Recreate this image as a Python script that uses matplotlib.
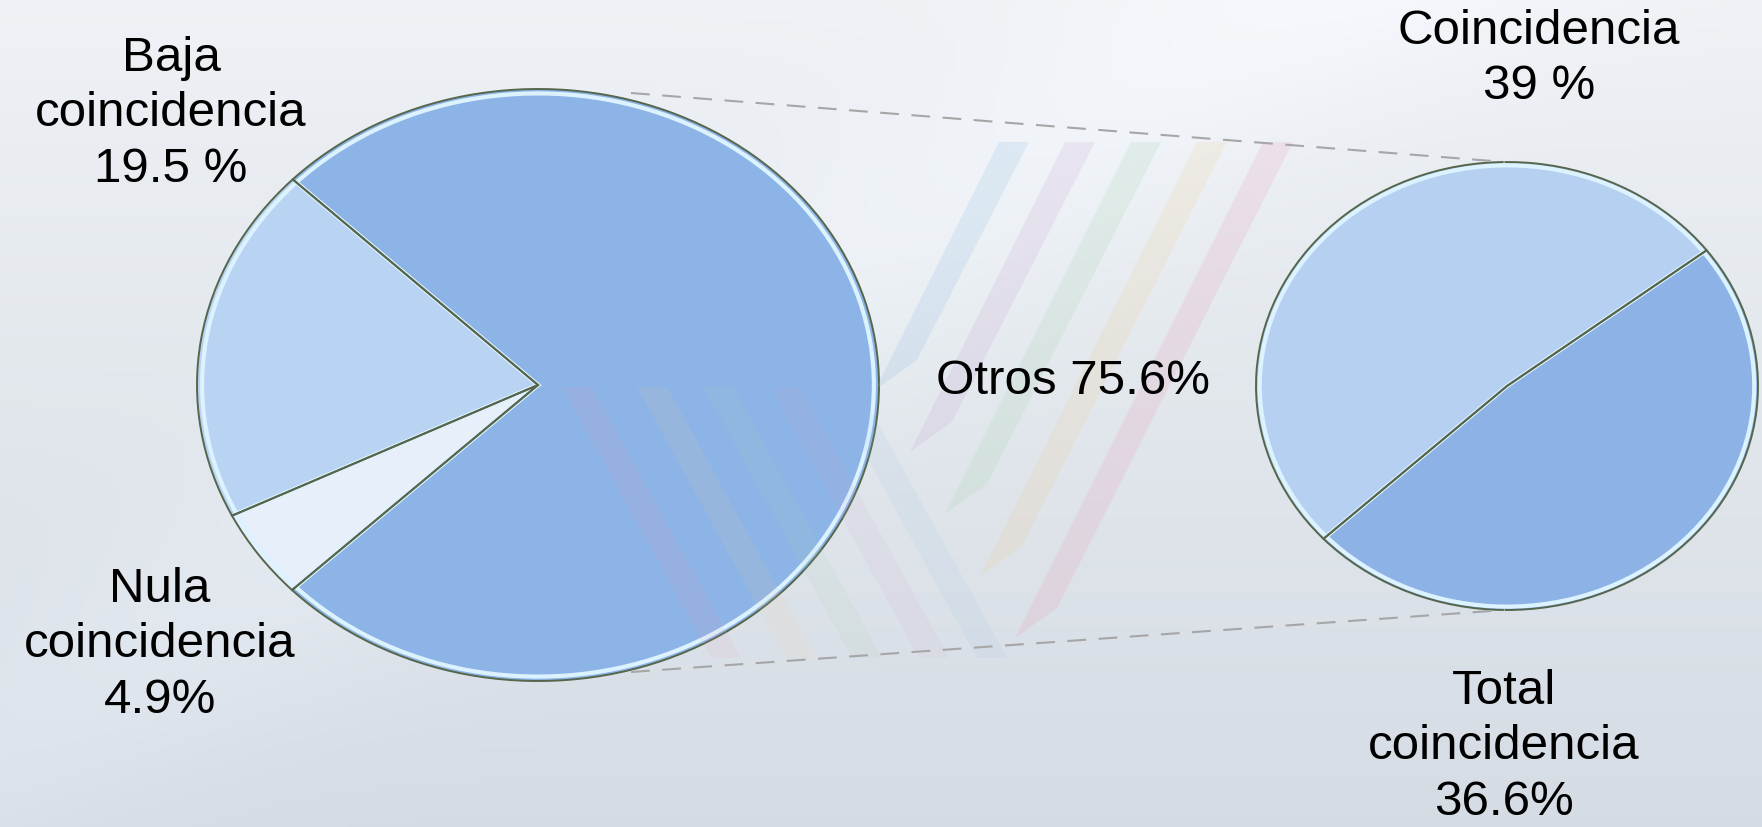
import numpy as np
import matplotlib.pyplot as plt
from matplotlib.patches import Polygon

plt.rcParams['font.family'] = ['Liberation Sans', 'DejaVu Sans']

# gráfico principal
cat_principal = ['Baja coincidencia', 'Nula coincidencia', 'Otros']
val_principal = [19.5, 4.9, 75.6]
col_principal = ['#B9D3F2', '#E6EFFA', '#8DB4E6']
etiq_principal = ['Baja\ncoincidencia\n19.5 %', 'Nula\ncoincidencia\n4.9%', 'Otros 75.6%']

# desglose de "Otros"
cat_sec = ['Coincidencia', 'Total coincidencia']
val_sec = [39, 36.6]
col_sec = ['#B6D0F1', '#8DB3E6']
etiq_sec = ['Coincidencia\n39 %', 'Total\ncoincidencia\n36.6%']

W, H = 1762, 828
fig = plt.figure(figsize=(W / 100, H / 100), dpi=100)

# fondo degradado
fondo = fig.add_axes([0, 0, 1, 1], zorder=0)
yy, xx = np.mgrid[0:1:200j, 0:1:400j]
arriba = np.array([0.935, 0.948, 0.962])
abajo = np.array([0.835, 0.862, 0.892])
img = arriba * (1 - yy[..., None]) + abajo * yy[..., None]
rayo = 0.025 * np.exp(-((xx * 1.2 + yy - 0.9) / 0.18) ** 2)
img = np.clip(img + rayo[..., None], 0, 1)
fondo.imshow(img, extent=[0, W, H, 0], aspect='auto')
fondo.set_xlim(0, W)
fondo.set_ylim(H, 0)
fondo.axis('off')


def pastel(cx, cy, rx, ry, valores, colores, inicio):
    m = 1.03
    ax = fig.add_axes([(cx - rx * m) / W, (H - cy - ry * m) / H,
                       2 * rx * m / W, 2 * ry * m / H], zorder=1)
    ax.pie(valores, colors=colores, startangle=inicio,
           wedgeprops=dict(linewidth=0))
    # relieve: borde claro y línea oscura encima
    ax.pie(valores, startangle=inicio, radius=0.985,
           wedgeprops=dict(facecolor='none', edgecolor='#DDF2FF', linewidth=3.0))
    ax.pie(valores, startangle=inicio,
           wedgeprops=dict(facecolor='none', edgecolor='#56664C', linewidth=1.4))
    ax.set_aspect('auto')
    ax.set_xlim(-m, m)
    ax.set_ylim(-m, m)
    ax.axis('off')
    return ax


pastel(538, 386, 341, 296, val_principal, col_principal, 136)
pastel(1507, 387, 251, 224, val_sec, col_sec, 37.3)

capa = fig.add_axes([0, 0, 1, 1], zorder=2)
capa.set_xlim(0, W)
capa.set_ylim(H, 0)
capa.axis('off')

# marca de agua de franjas
colores_franja = ['#8FBCE0', '#C9A6D2', '#A6D3B2', '#F2CD9C', '#E79DB9']
for i, c in enumerate(colores_franja):
    xt = 999 + 66 * i
    yb = 391 + 62 * i
    xb = xt - 0.5 * (yb - 143)
    capa.add_patch(Polygon([(xt, 143), (xt + 30, 143), (xb + 42, yb - 30), (xb, yb)],
                           closed=True, facecolor=c, alpha=0.2, lw=0))
for i, c in enumerate(colores_franja[::-1]):
    xt = [562, 637, 703, 770, 828][i]
    xb = xt + 0.55 * (659 - 388)
    capa.add_patch(Polygon([(xt, 388), (xt + 30, 388), (xb + 30, 659), (xb, 659)],
                           closed=True, facecolor=c, alpha=0.1, lw=0))

# líneas de unión entre los dos gráficos
capa.plot([631, 1505], [94, 163], color='#A6A6A6', lw=1.5, dashes=(9, 6))
capa.plot([631, 1505], [673, 611], color='#A6A6A6', lw=1.5, dashes=(9, 6))

fs = 35.5
txt = dict(fontsize=fs, ha='center', va='center', linespacing=1.31, color='black')
capa.text(171, 114, etiq_principal[0], **txt)
capa.text(160, 645, etiq_principal[1], **txt)
capa.text(1073, 382, etiq_principal[2], **txt)
capa.text(1539, 59, etiq_sec[0], **txt)
capa.text(1504, 747, etiq_sec[1], **txt)

fig.savefig('out.png', dpi=100)
